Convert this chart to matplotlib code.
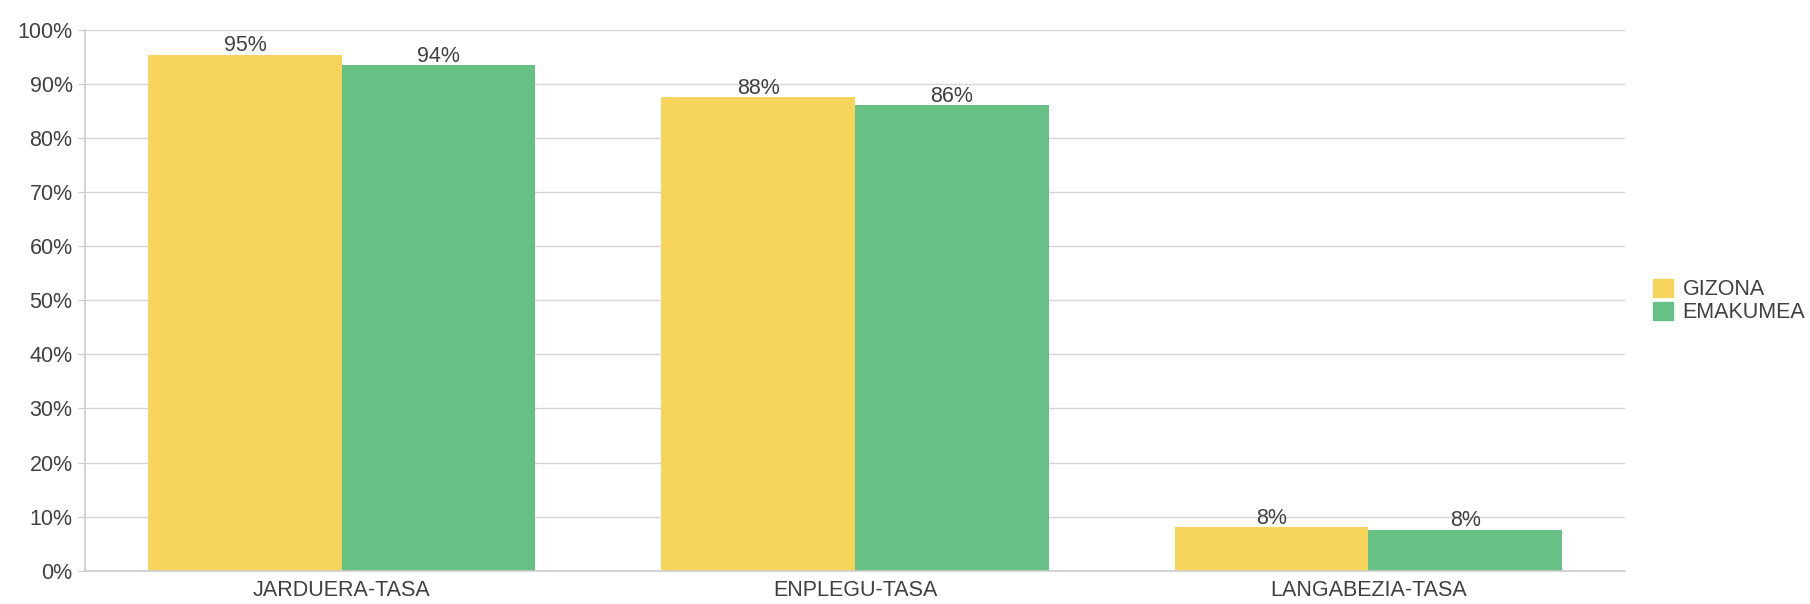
import numpy as np
import matplotlib.pyplot as plt
from matplotlib.patches import Patch

plt.rcParams['font.family'] = ['Liberation Sans', 'DejaVu Sans']

categories = ['JARDUERA-TASA', 'ENPLEGU-TASA', 'LANGABEZIA-TASA']
series = ['GIZONA', 'EMAKUMEA']
gizona = [95.4, 87.6, 8.0]
emakumea = [93.5, 86.1, 7.6]
colors = ['#F7D55C', '#68C184']
txt = '#404040'
fs = 15.5

fig = plt.figure(figsize=(18.1, 6.04), dpi=100)
ax = fig.add_axes([85/1810, 33.3/604, 1540/1810, 540.7/604])

x = np.arange(len(categories))
w = 0.377
b1 = ax.bar(x - w/2, gizona, w, color=colors[0])
b2 = ax.bar(x + w/2, emakumea, w, color=colors[1])

for bars, vals in ((b1, gizona), (b2, emakumea)):
    for b, v in zip(bars, vals):
        ax.text(b.get_x() + b.get_width()/2, v - 0.3, '%d%%' % round(v),
                ha='center', va='bottom', fontsize=fs, color=txt)

ax.set_xlim(-0.5, 2.5)
ax.set_ylim(0, 100)
ax.set_yticks(np.arange(0, 101, 10))
ax.set_yticklabels(['%d%%' % t for t in range(0, 101, 10)])
ax.set_xticks(x)
ax.set_xticklabels(categories)
ax.tick_params(axis='y', length=5, color='#cccccc', labelsize=fs, labelcolor=txt, pad=4)
ax.tick_params(axis='x', length=0, labelsize=fs, labelcolor=txt, pad=7)
ax.grid(axis='y', color='#d6d6d6', linewidth=1)
ax.set_axisbelow(True)
for s in ['top', 'right']:
    ax.spines[s].set_visible(False)
for s in ['left', 'bottom']:
    ax.spines[s].set_color('#cccccc')
    ax.spines[s].set_linewidth(1.2)

handles = [Patch(color=c, label=l) for c, l in zip(colors, series)]
leg = fig.legend(handles=handles, loc='center left', bbox_to_anchor=(1653/1810, 1 - 301/604),
                 frameon=False, fontsize=fs, handlelength=0.93, handleheight=0.93,
                 handletextpad=0.45, labelspacing=0.05, borderpad=0, borderaxespad=0)
for t in leg.get_texts():
    t.set_color(txt)

fig.savefig('out.png', dpi=100)
